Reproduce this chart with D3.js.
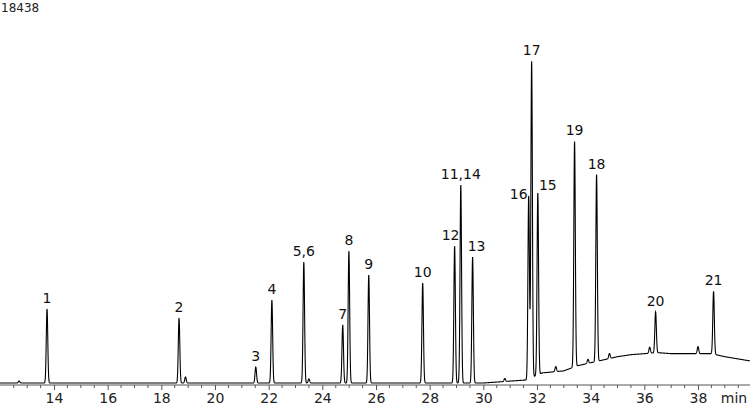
<!DOCTYPE html>
<html><head><meta charset="utf-8">
<script src="https://cdn.jsdelivr.net/npm/d3@7"></script>
<style>body{margin:0;background:#fff}text{font-family:"DejaVu Sans",Verdana,sans-serif}</style>
</head><body>
<svg id="c" width="750" height="406"></svg>
<script>
// Peaks: retention time (min), apex height above baseline (counts), label
const peakTimes   = [13.74, 18.66, 21.52, 22.12, 23.31, 24.76, 24.99, 25.73, 27.74, 28.93, 29.16, 29.60, 31.69, 31.80, 32.03, 33.40, 34.22, 36.42, 38.58];
const peakHeights = [3660, 3210, 790, 4100, 5980, 2870, 6520, 5340, 4940, 6770, 9790, 6230, 9050, 15640, 9000, 11140, 9240, 2030, 3110];
const peakLabels  = ['1','2','3','4','5,6','7','8','9','10','12','11,14','13','16','17','15','19','18','20','21'];
// label offsets (px) for crowded labels
const labelDx     = [0,0,0,0,0,0,0,0,0,-4,0,4,-10,0,10,0,0,0,0];
const labelDy     = [0,0,0,0,0,0,0,0,0,0,0,0,9,0,3,0,0,0,0];
// Minor peaks
const minorTimes   = [12.70, 18.90, 23.50, 30.80, 32.70, 33.90, 34.70, 36.20, 38.00];
const minorHeights = [100, 300, 200, 150, 250, 200, 250, 300, 350];
// Baseline drift (min, counts)
const driftTimes  = [12.0, 30.0, 31.6, 32.2, 33.0, 33.5, 34.0, 34.5, 35.0, 35.5, 36.0, 36.5, 37.0, 38.0, 38.5, 39.0, 39.9];
const driftValues = [0, 0, 150, 500, 600, 850, 1000, 1150, 1300, 1400, 1450, 1500, 1450, 1450, 1450, 1300, 1100];
const yMaxLabel = '18438';

const svg = d3.select('#c');
const x = d3.scaleLinear().domain([14, 38]).range([54, 698]);
const y = d3.scaleLinear().domain([0, 18438]).range([383, 10]);
const axisY = 385;

const drift = d3.scaleLinear().domain(driftTimes).range(driftValues).clamp(true);
const sigma = 0.028;
const allT = peakTimes.concat(minorTimes), allH = peakHeights.concat(minorHeights);
function signal(t) {
  let v = drift(t);
  allT.forEach((pt, i) => { const d = (t - pt) / sigma; if (Math.abs(d) < 6) v += allH[i] * Math.exp(-0.5 * d * d); });
  return v;
}
const ts = d3.range(x.invert(0), x.invert(750), 0.004);
svg.append('path').datum(ts)
  .attr('d', d3.line().x(t => x(t)).y(t => y(signal(t))))
  .attr('fill', 'none').attr('stroke', '#000').attr('stroke-width', 1.1);

// axis
const ax = svg.append('g').attr('transform', `translate(0,${axisY})`)
  .call(d3.axisBottom(x).tickValues(d3.range(14, 40, 2)).tickSize(5).tickPadding(3).tickFormat(d3.format('d')));
ax.select('.domain').attr('d', `M0,0H750`).attr('stroke', '#555');
ax.selectAll('.tick line').attr('stroke', '#555');
ax.selectAll('.tick text').attr('font-size', 14).attr('fill', '#222');
svg.append('g').attr('transform', `translate(0,${axisY})`).selectAll('line')
  .data(d3.range(12.5, 40, 0.5).filter(d => d % 2 !== 0)).join('line')
  .attr('x1', d => x(d)).attr('x2', d => x(d)).attr('y2', 3).attr('stroke', '#555');
svg.append('text').attr('x', 734).attr('y', 403).attr('text-anchor', 'middle').attr('font-size', 14).attr('fill', '#222').text('min');
svg.append('text').attr('x', 1).attr('y', 12).attr('font-size', 12).attr('fill', '#222').text(yMaxLabel);

// peak labels
svg.append('g').selectAll('text').data(peakTimes).join('text')
  .attr('x', (d, i) => x(d) + labelDx[i])
  .attr('y', (d, i) => y(signal(d)) - 6 + labelDy[i])
  .attr('text-anchor', 'middle').attr('font-size', 14).attr('fill', '#111')
  .text((d, i) => peakLabels[i]);
</script>
</body></html>
